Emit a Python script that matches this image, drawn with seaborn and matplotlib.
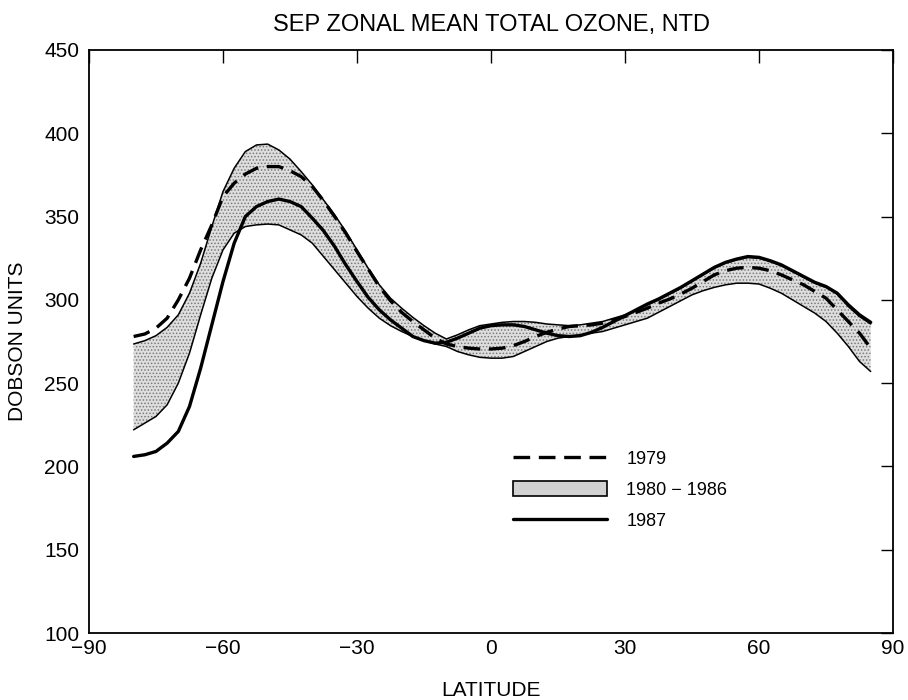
import matplotlib
matplotlib.use("Agg")
import matplotlib.pyplot as plt
from matplotlib.lines import Line2D
from matplotlib.patches import Patch
import seaborn as sns

# latitude grid (deg), values in Dobson units
lat = [-80, -77.5, -75, -72.5, -70, -67.5, -65, -62.5, -60, -57.5, -55, -52.5,
       -50, -47.5, -45, -42.5, -40, -37.5, -35, -32.5, -30, -27.5, -25, -22.5,
       -20, -17.5, -15, -12.5, -10, -7.5, -5, -2.5, 0, 2.5, 5, 7.5, 10, 12.5,
       15, 17.5, 20, 22.5, 25, 27.5, 30, 32.5, 35, 37.5, 40, 42.5, 45, 47.5,
       50, 52.5, 55, 57.5, 60, 62.5, 65, 67.5, 70, 72.5, 75, 77.5, 80, 82.5, 85]

# 1980-1986 range (upper / lower edge of the shaded band)
band_high = [273.5, 275.5, 278.5, 283.5, 291, 304, 322, 344, 365, 379, 389, 393,
             393.5, 390, 384.5, 377, 369, 360, 351, 341, 330, 319, 309, 301,
             295, 289.5, 284.5, 280, 276.5, 279, 282, 284.5, 285.5, 286.5, 287, 287, 286.5, 285.5,
             285, 284.5, 285, 286, 287, 289, 291, 294, 297, 300, 303.5, 307, 311, 315,
             319, 322, 324, 325.5, 325, 323, 320.5, 317, 313.5, 310, 307.5, 303.5, 296, 290, 285.5]
band_low = [222, 226, 230, 237, 250, 268, 291, 313, 330, 340, 344, 345,
            345.5, 345, 342, 339, 334, 326, 318, 310, 302, 295, 289, 284.5,
            281, 278, 275.5, 273.5, 272, 269, 267, 265.5, 265, 265, 266, 269, 272, 275,
            277, 278, 279, 280, 281, 283, 285, 287, 289, 292.5, 296, 299.5, 303, 305.5,
            307.5, 309, 310, 310, 309.5, 307, 304, 300, 296, 292, 287, 280, 272, 263, 257]

y1979 = [278, 279.5, 283, 289, 300, 313, 330, 345, 362, 370, 375.5, 379,
         380, 380, 377.5, 374, 368, 359.5, 350, 340, 329, 318.5, 308, 299.5,
         292.5, 287, 282, 277, 273.5, 272, 271, 270.5, 270.5, 271, 272.5, 275, 278, 280.5,
         282.5, 284, 284.5, 285, 286, 288, 290, 292.5, 295, 298, 300.5, 303.5, 307, 311,
         315, 317.5, 319, 319.5, 319, 317.5, 315, 312, 309, 305, 301, 294, 287, 280, 271]

y1987 = [206, 207, 209, 214, 221, 236, 259, 285, 311, 334, 350, 356,
         359, 360.5, 359, 356, 349, 341.5, 332, 321, 311, 301.5, 294, 288,
         283, 278, 275.5, 274, 274.5, 277, 280, 283, 284.5, 285, 285, 284, 282, 280,
         278.5, 278, 278.5, 280.5, 283.5, 287, 290.5, 294, 297.5, 300.5, 304, 307.5, 311.5, 315.5,
         319.5, 322.5, 324.5, 326, 325.5, 323.5, 321, 317.5, 314, 310.5, 308, 304, 297, 291, 286.5]

legend_labels = ["1979", "1980 \u2212 1986", "1987"]

sns.set_theme(style="white")
plt.rcParams["font.family"] = ["Liberation Sans", "DejaVu Sans"]
plt.rcParams["hatch.linewidth"] = 0.7
plt.rcParams["text.color"] = "black"
plt.rcParams["axes.labelcolor"] = "black"

fig, ax = plt.subplots(figsize=(9.08, 7.0), dpi=100)
fig.subplots_adjust(left=0.098, right=0.9835, bottom=0.0957, top=0.9286)

# shaded 1980-86 band
ax.fill_between(lat, band_low, band_high, facecolor="#dedede",
                edgecolor="#7a7a7a", hatch=".....", linewidth=0)
sns.lineplot(x=lat, y=band_low, color="black", lw=1.1, ax=ax)
sns.lineplot(x=lat, y=band_high, color="black", lw=1.1, ax=ax)

sns.lineplot(x=lat, y=y1979, color="black", lw=2.4, linestyle=(0, (5, 2.6)), ax=ax)
sns.lineplot(x=lat, y=y1987, color="black", lw=2.4, ax=ax)

ax.set_xlim(-90, 90)
ax.set_ylim(100, 450)
ax.set_xticks(range(-90, 91, 30))
ax.set_yticks(range(100, 451, 50))
ax.tick_params(direction="in", length=9, width=1, top=True, right=True,
               labelsize=15, colors="black")
ax.tick_params(axis="x", pad=4)
ax.tick_params(axis="y", pad=7)
for sp in ax.spines.values():
    sp.set_color("black")
    sp.set_linewidth(1.3)

ax.set_title("SEP ZONAL MEAN TOTAL OZONE, NTD", fontsize=17, pad=14, color="black")
ax.set_xlabel("LATITUDE", fontsize=15, labelpad=17)
ax.set_ylabel("DOBSON UNITS", fontsize=15, labelpad=12)

handles = [
    Line2D([], [], color="black", lw=2.4, linestyle=(0, (5, 2.6))),
    Patch(facecolor="#d2d2d2", edgecolor="black", lw=1.2),
    Line2D([], [], color="black", lw=2.4),
]
ax.legend(handles, legend_labels, loc="upper left", bbox_to_anchor=(0.527, 0.313),
          frameon=False, fontsize=13, handlelength=5.2, handleheight=0.9,
          handletextpad=1.1, labelspacing=0.72, borderpad=0, borderaxespad=0)

fig.savefig("out.png", dpi=100)
